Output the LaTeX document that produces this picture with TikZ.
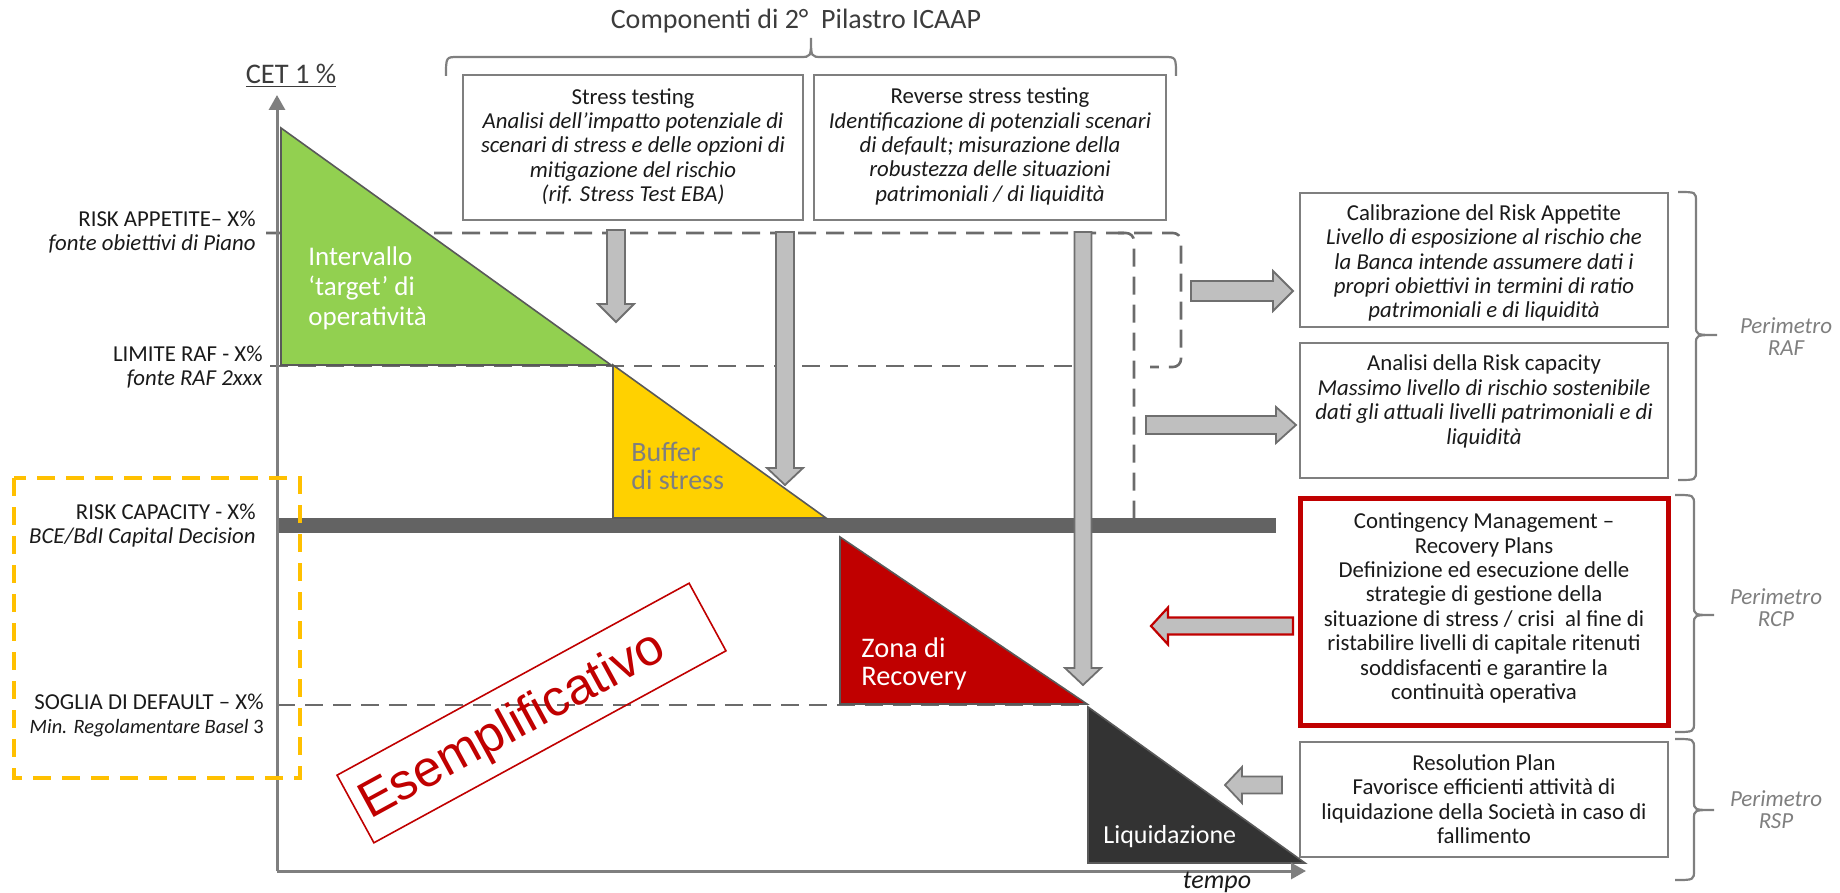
\documentclass[tikz,border=0pt]{standalone}
\usepackage{fontspec}
\setmainfont{Carlito}
\newfontfamily\arialfont{Liberation Sans}
\usetikzlibrary{arrows.meta}

\definecolor{axisgray}{HTML}{7F7F7F}
\definecolor{dashgray}{HTML}{6B6B6B}
\definecolor{bargray}{HTML}{636363}
\definecolor{arrowfill}{HTML}{BFBFBF}
\definecolor{arrowline}{HTML}{6F6F6F}
\definecolor{boxline}{HTML}{7F7F7F}
\definecolor{greenzone}{HTML}{92D050}
\definecolor{yellowzone}{HTML}{FFD100}
\definecolor{redzone}{HTML}{C00000}
\definecolor{darkzone}{HTML}{333333}
\definecolor{ambercap}{HTML}{FFC000}
\definecolor{txt}{HTML}{1A1A1A}
\definecolor{soft}{HTML}{7F7F7F}
\definecolor{edge}{HTML}{595959}

% block arrows: centre/edge, start, head start, tip, half shaft, half head
\newcommand\downblk[6]{\draw[blk] (#1-#5,#2) -- (#1+#5,#2) -- (#1+#5,#3) -- (#1+#6,#3) -- (#1,#4) -- (#1-#6,#3) -- (#1-#5,#3) -- cycle;}
\newcommand\rightblk[7][]{\draw[blk,#1] (#3,#2-#6) -- (#4,#2-#6) -- (#4,#2-#7) -- (#5,#2) -- (#4,#2+#7) -- (#4,#2+#6) -- (#3,#2+#6) -- cycle;}
% vertical brace: end x, spine x, tip x, top y, tip y, bottom y
\newcommand\vbrace[6]{\draw[brc] (#1,#4) .. controls (#2,#4) .. (#2,#4+10) -- (#2,#5-9) .. controls (#2,#5) .. (#3,#5) .. controls (#2,#5) .. (#2,#5+9) -- (#2,#6-10) .. controls (#2,#6) .. (#1,#6);}

\begin{document}
\begin{tikzpicture}[x=0.5pt,y=-0.5pt,
  infobox/.style={draw=boxline, line width=1.1pt, fill=white, inner sep=0pt},
  body/.style={font=\fontsize{11.4}{12.2}\selectfont, text=txt, align=center, inner sep=0pt},
  lvl/.style={font=\fontsize{11.4}{12}\selectfont, text=txt, align=right, anchor=east, inner sep=0pt},
  zonetext/.style={align=left, anchor=west, inner sep=0pt},
  perim/.style={font=\fontsize{11.5}{11}\selectfont\itshape, text=soft, align=center, inner sep=0pt},
  dashline/.style={draw=dashgray, line width=1.3pt, dash pattern=on 9pt off 5pt},
  blk/.style={fill=arrowfill, draw=arrowline, line width=0.9pt, line join=miter},
  tri/.style={draw=edge, line width=0.8pt},
  brc/.style={draw=axisgray, line width=1.1pt},
  axis/.style={draw=axisgray, line width=1.5pt, -{Triangle[length=7.5pt,width=8pt]}}
]
\useasboundingbox (0,0) rectangle (1840,893);

% title and top brace
\node[font=\fontsize{14}{16}\selectfont, text=txt!85!white, inner sep=0pt] (title) at (796,21) {Componenti di 2°\ \ Pilastro ICAAP};
\draw[brc] (446,76) .. controls (446,57) .. (458,57) -- (800,57) .. controls (811,57) .. (811,38) .. controls (811,57) .. (822,57) -- (1164,57) .. controls (1176,57) .. (1176,76);

% top boxes
\node[infobox, minimum width=170pt, minimum height=72.5pt] (stressbox) at (633,147.5) {};
\node[body] (stresstxt) at (633,146.5) {Stress testing\\\textit{Analisi dell’impatto potenziale di}\\\textit{scenari di stress e delle opzioni di}\\\textit{mitigazione del rischio}\\\textit{(rif. Stress Test EBA)}};
\node[infobox, minimum width=176pt, minimum height=72.5pt] (revbox) at (990,147.5) {};
\node[body] (revtxt) at (990,146.5) {Reverse stress testing\\\textit{Identificazione di potenziali scenari}\\\textit{di default; misurazione della}\\\textit{robustezza delle situazioni}\\\textit{patrimoniali / di liquidità}};

% threshold dashed lines
\draw[dashline, rounded corners=4pt] (266,233) -- (1181,233) -- (1181,367) -- (1150,367);
\draw[dashline, rounded corners=4pt] (1118,233) -- (1134,233) -- (1134,518);
\draw[dashline] (270,366) -- (1087,366);
\draw[dashline] (277,705) -- (1087,705);

% capacity bar
\fill[bargray] (277,518) rectangle (1276,533);

% zones
\filldraw[tri, fill=greenzone] (281,128) -- (281,365) -- (611,365) -- cycle;
\filldraw[tri, fill=yellowzone] (613,365) -- (613,518) -- (826,518) -- cycle;
\filldraw[tri, fill=redzone] (840,537) -- (840,704) -- (1087,704) -- cycle;
\filldraw[tri, fill=darkzone] (1088,707) -- (1088,863) -- (1305,863) -- cycle;

\node[zonetext, text=white, font=\fontsize{13.5}{15}\selectfont] (intervallo) at (308,288) {Intervallo\\‘target’ di\\operatività};
\node[zonetext, text=soft, font=\fontsize{14}{14}\selectfont] (buffer) at (631,466) {Buffer\\di stress};
\node[zonetext, text=white, font=\fontsize{14.2}{14}\selectfont] (zona) at (861,664) {Zona di\\Recovery};
\node[zonetext, text=white, font=\fontsize{13}{14}\selectfont] (liquid) at (1103,837) {Liquidazione};

% axes
\coordinate (origin) at (277,871);
\coordinate (ytop) at (277,95);
\coordinate (xend) at (1306,871);
\draw[axis] (origin) -- (ytop);
\draw[axis] (origin) -- (xend);
\node[font=\fontsize{14.2}{16}\selectfont, text=txt!85!white, inner sep=0pt] (cet) at (291,76) {\underline{CET 1 \%}};
\node[font=\fontsize{13}{14}\selectfont\itshape, text=txt, inner sep=0pt] (tempo) at (1217,882) {tempo};

% vertical block arrows
\downblk{616}{230}{304}{322}{9}{18}
\downblk{785}{232}{468}{485}{9}{18}
\downblk{1083}{232}{668}{685}{8.5}{18}

% horizontal block arrows
\rightblk{291}{1191}{1273}{1293}{10}{20}
\rightblk{425}{1146}{1276}{1296}{9}{18}
\rightblk[draw=redzone, line width=1.1pt]{626}{1293}{1168}{1151}{8.5}{18.5}
\rightblk{785}{1282}{1242}{1225}{8.5}{18}

% right boxes
\node[infobox, minimum width=184pt, minimum height=67pt] (calbox) at (1484,260) {};
\node[body] (caltxt) at (1484,263) {Calibrazione del Risk Appetite\\\textit{Livello di esposizione al rischio che}\\\textit{la Banca intende assumere dati i}\\\textit{propri obiettivi in termini di ratio}\\\textit{patrimoniali e di liquidità}};
\node[infobox, minimum width=184pt, minimum height=67.5pt] (capbox) at (1484,410.5) {};
\node[body] (captxt) at (1484,401.5) {Analisi della Risk capacity\\\textit{Massimo livello di rischio sostenibile}\\\textit{dati gli attuali livelli patrimoniali e di}\\\textit{liquidità}};
\node[infobox, draw=redzone, line width=2.5pt, minimum width=184pt, minimum height=113.5pt] (recbox) at (1484,611.5) {};
\node[body] (rectxt) at (1484,608) {Contingency Management –\\Recovery Plans\\Definizione ed esecuzione delle\\strategie di gestione della\\situazione di stress / crisi\ \ al fine di\\ristabilire livelli di capitale ritenuti\\soddisfacenti e garantire la\\continuità operativa};
\node[infobox, minimum width=184pt, minimum height=57.5pt] (resbox) at (1484,799.5) {};
\node[body] (restxt) at (1484,799) {Resolution Plan\\Favorisce efficienti attività di\\liquidazione della Società in caso di\\fallimento};

% perimeter braces
\vbrace{1678}{1696}{1717}{192}{335}{480}
\vbrace{1675}{1694}{1714}{495}{615}{732}
\vbrace{1675}{1694}{1714}{739}{810}{880}
\node[perim] (praf) at (1786,337) {Perimetro\\RAF};
\node[perim] (prcp) at (1776,608) {Perimetro\\RCP};
\node[perim] (prsp) at (1776,810) {Perimetro\\RSP};

% level labels
\node[lvl] (lra) at (256,232) {RISK APPETITE– X\%\\\textit{fonte obiettivi di Piano}};
\node[lvl] (lraf) at (263,367) {LIMITE RAF - X\%\\\textit{fonte RAF 2xxx}};
\node[lvl] (lrc) at (256,526) {RISK CAPACITY - X\%\\\textit{BCE/BdI Capital Decision}};
\node[lvl] (lsd) at (264,715) {SOGLIA DI DEFAULT – X\%\\{\fontsize{10.2}{12}\selectfont\textit{Min. Regolamentare Basel} 3}};

% regulatory capacity frame
\draw[ambercap, line width=2.2pt, dash pattern=on 9pt off 5.5pt] (14,478) rectangle (300,778);

% sample stamp
\node[draw=redzone, line width=0.8pt, rotate=28.6, minimum width=200.5pt, minimum height=38.5pt, inner sep=0pt] (stamp) at (531.5,713) {};
\node[font=\arialfont\fontsize{25.5}{28}\selectfont, text=redzone, rotate=28.6, inner sep=0pt] (stamptxt) at (513,727) {Esemplificativo};

\end{tikzpicture}
\end{document}
